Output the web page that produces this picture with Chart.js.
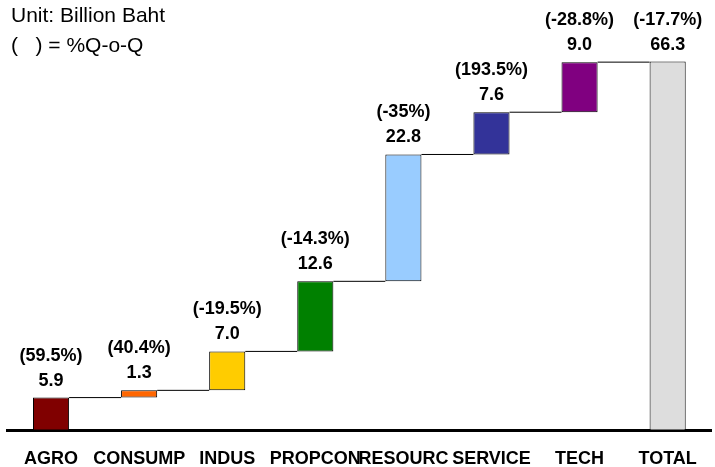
<!DOCTYPE html>
<html>
<head>
<meta charset="utf-8">
<script src="https://cdn.jsdelivr.net/npm/chart.js@4.4.0/dist/chart.umd.min.js"></script>
<style>
  body { margin: 0; background: #fff; }
  #wrap { width: 715px; height: 467px; position: relative; }
</style>
</head>
<body>
<div id="wrap"><canvas id="waterfall"></canvas></div>
<script>
// sectors and their values (billion baht)
const sectors = ['AGRO', 'CONSUMP', 'INDUS', 'PROPCON', 'RESOURC', 'SERVICE', 'TECH', 'TOTAL'];
const values = [5.9, 1.3, 7.0, 12.6, 22.8, 7.6, 9.0, 66.3];
const pctQoQ = ['(59.5%)', '(40.4%)', '(-19.5%)', '(-14.3%)', '(-35%)', '(193.5%)', '(-28.8%)', '(-17.7%)'];
const barColors = ['#800000', '#FF6600', '#FFCC00', '#008000', '#99CCFF', '#333399', '#800080', '#DDDDDD'];

// build floating bars: each sector starts where the previous one ended, total from zero
const ranges = [];
let running = 0;
for (let i = 0; i < values.length; i++) {
    if (sectors[i] === 'TOTAL') {
        ranges.push([0, values[i]]);
    } else {
        ranges.push([running, running + values[i]]);
        running += values[i];
    }
}

const FONT = 'Arial, "Liberation Sans", sans-serif';

// connector lines + labels above bars + the notes in the corner
const waterfallExtras = {
    id: 'waterfallExtras',
    afterDatasetsDraw(chart) {
        const ctx = chart.ctx;
        const meta = chart.getDatasetMeta(0);
        const yScale = chart.scales.y;

        ctx.save();
        ctx.strokeStyle = '#000';
        ctx.lineWidth = 1;
        for (let i = 0; i < meta.data.length - 1; i++) {
            const cur = meta.data[i];
            const next = meta.data[i + 1];
            const yv = yScale.getPixelForValue(ranges[i][1]);
            ctx.beginPath();
            ctx.moveTo(cur.x + cur.width / 2, yv);
            ctx.lineTo(next.x - next.width / 2, yv);
            ctx.stroke();
        }

        ctx.fillStyle = '#000';
        ctx.textAlign = 'center';
        ctx.textBaseline = 'middle';
        ctx.font = 'bold 18px ' + FONT;
        meta.data.forEach((bar, i) => {
            const top = yScale.getPixelForValue(ranges[i][1]);
            ctx.fillText(values[i].toFixed(1), bar.x, top - 17);
            ctx.fillText(pctQoQ[i], bar.x, top - 42);
        });

        ctx.textAlign = 'left';
        ctx.font = '21px ' + FONT;
        ctx.fillText('Unit: Billion Baht', 11, 16);
        ctx.fillText('(   ) = %Q-o-Q', 11, 46);
        ctx.restore();
    }
};

new Chart(document.getElementById('waterfall'), {
    type: 'bar',
    data: {
        labels: sectors,
        datasets: [{
            data: ranges,
            backgroundColor: barColors,
            borderColor: '#000',
            borderWidth: 1,
            borderSkipped: false,
            barPercentage: 0.41,
            categoryPercentage: 1.0
        }]
    },
    options: {
        responsive: true,
        maintainAspectRatio: false,
        animation: false,
        layout: { padding: { top: 41, left: 7, right: 3, bottom: -21 } },
        plugins: {
            legend: { display: false },
            tooltip: { enabled: false }
        },
        scales: {
            x: {
                grid: { display: false, drawTicks: false },
                border: { display: true, color: '#000', width: 3 },
                ticks: {
                    color: '#000',
                    font: { family: FONT, size: 18, weight: 'bold' },
                    padding: 18,
                    maxRotation: 0,
                    autoSkip: false
                }
            },
            y: {
                display: false,
                min: 0,
                max: 70
            }
        }
    },
    plugins: [waterfallExtras]
});
</script>
</body>
</html>
